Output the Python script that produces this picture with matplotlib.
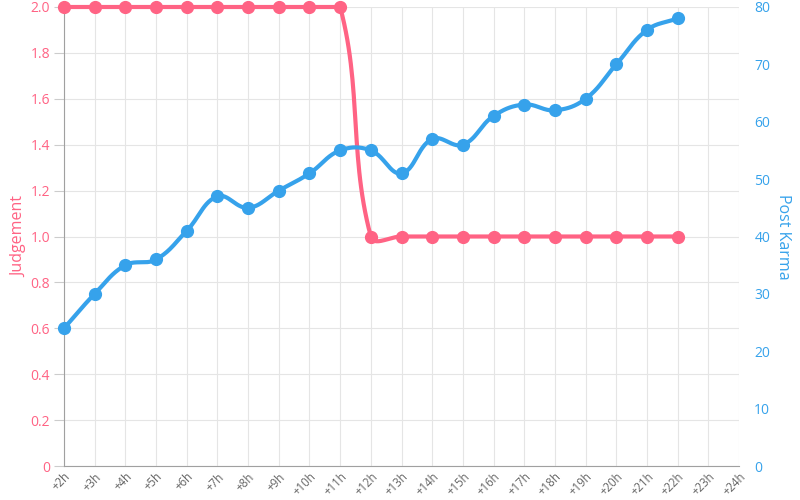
import numpy as np
import matplotlib
matplotlib.use("Agg")
import matplotlib.pyplot as plt

plt.rcParams['font.family'] = ['Open Sans', 'DejaVu Sans']

labels = ["+%dh" % h for h in range(2, 25)]
judgement = [2.0] * 10 + [1.0] * 11
karma = [24, 30, 35, 36, 41, 47, 45, 48, 51, 55, 55, 51, 57, 56, 61, 63, 62, 64, 70, 76, 78]

RED = "#ff6384"
BLUE = "#36a2eb"

W, H = 800, 500
L, R, T, B = 64, 739, 7, 466


def spline(ys, ymax, tension=0.4, n=30):
    # Chart.js style bezier, computed in pixel space
    sx = (R - L) / (len(labels) - 1)
    sy = (B - T) / ymax
    px = np.arange(len(ys)) * sx
    py = np.array(ys, dtype=float) * sy
    out_x, out_y = [], []
    cps = []
    for i in range(len(ys)):
        p0 = (px[max(i - 1, 0)], py[max(i - 1, 0)])
        p1 = (px[i], py[i])
        p2 = (px[min(i + 1, len(ys) - 1)], py[min(i + 1, len(ys) - 1)])
        d01 = np.hypot(p1[0] - p0[0], p1[1] - p0[1])
        d12 = np.hypot(p2[0] - p1[0], p2[1] - p1[1])
        tot = d01 + d12
        s01 = d01 / tot if tot else 0
        s12 = d12 / tot if tot else 0
        fa, fb = tension * s01, tension * s12
        prev_cp = (p1[0] - fa * (p2[0] - p0[0]), p1[1] - fa * (p2[1] - p0[1]))
        next_cp = (p1[0] + fb * (p2[0] - p0[0]), p1[1] + fb * (p2[1] - p0[1]))
        prev_cp = (prev_cp[0], min(max(prev_cp[1], 0), B - T))
        next_cp = (next_cp[0], min(max(next_cp[1], 0), B - T))
        cps.append((prev_cp, next_cp))
    t = np.linspace(0, 1, n)
    for i in range(len(ys) - 1):
        a = np.array([px[i], py[i]])
        b = np.array(cps[i][1])
        c = np.array(cps[i + 1][0])
        d = np.array([px[i + 1], py[i + 1]])
        pts = ((1 - t) ** 3)[:, None] * a + (3 * (1 - t) ** 2 * t)[:, None] * b \
            + (3 * (1 - t) * t ** 2)[:, None] * c + (t ** 3)[:, None] * d
        out_x.extend(pts[:, 0] / sx)
        out_y.extend(pts[:, 1] / sy)
    return np.array(out_x), np.array(out_y)


fig = plt.figure(figsize=(8, 5), dpi=100)
ax = fig.add_axes([L / W, 1 - B / H, (R - L) / W, (B - T) / H])
ax2 = ax.twinx()

ax.set_xlim(0, len(labels) - 1)
ax.set_ylim(0, 2)
ax2.set_ylim(0, 80)

x = np.arange(len(judgement))
jx, jy = spline(judgement, 2.0)
ax.plot(jx, jy, color=RED, lw=3, solid_capstyle="round", zorder=3, clip_on=False)
ax.plot(x, judgement, "o", color=RED, ms=8.5, zorder=4, clip_on=False)

kx, ky = spline(karma, 80.0)
ax2.plot(kx, ky, color=BLUE, lw=3, solid_capstyle="round", zorder=3, clip_on=False)
ax2.plot(x, karma, "o", color=BLUE, ms=8.5, zorder=4, clip_on=False)

ax.set_xticks(range(len(labels)))
ax.set_xticklabels(labels, rotation=45, ha="right", rotation_mode="anchor",
                   fontsize=8.3, color="#666666")
ax.set_yticks(np.arange(0, 2.01, 0.2))
ax.set_yticklabels(["0"] + ["%.1f" % v for v in np.arange(0.2, 2.01, 0.2)])
ax2.set_yticks(range(0, 81, 10))

ax.tick_params(axis="x", length=0, pad=3)
ax.tick_params(axis="y", length=7, color="#cccccc", labelcolor=RED, labelsize=10, pad=3)
ax2.tick_params(axis="y", length=0, labelcolor=BLUE, labelsize=10, pad=11)

ax.grid(True, color="#e5e5e5", lw=0.8)
ax.set_axisbelow(True)
for s in ["top", "right"]:
    ax.spines[s].set_visible(False)
    ax2.spines[s].set_visible(False)
for s in ["left", "bottom"]:
    ax.spines[s].set_color("#a0a0a0")
    ax2.spines[s].set_visible(False)

ax.set_ylabel("Judgement", color=RED, fontsize=11.5, labelpad=2)
ax2.set_ylabel("Post Karma", color=BLUE, fontsize=11.5, rotation=270, labelpad=15)

fig.savefig("out.png", dpi=100)
